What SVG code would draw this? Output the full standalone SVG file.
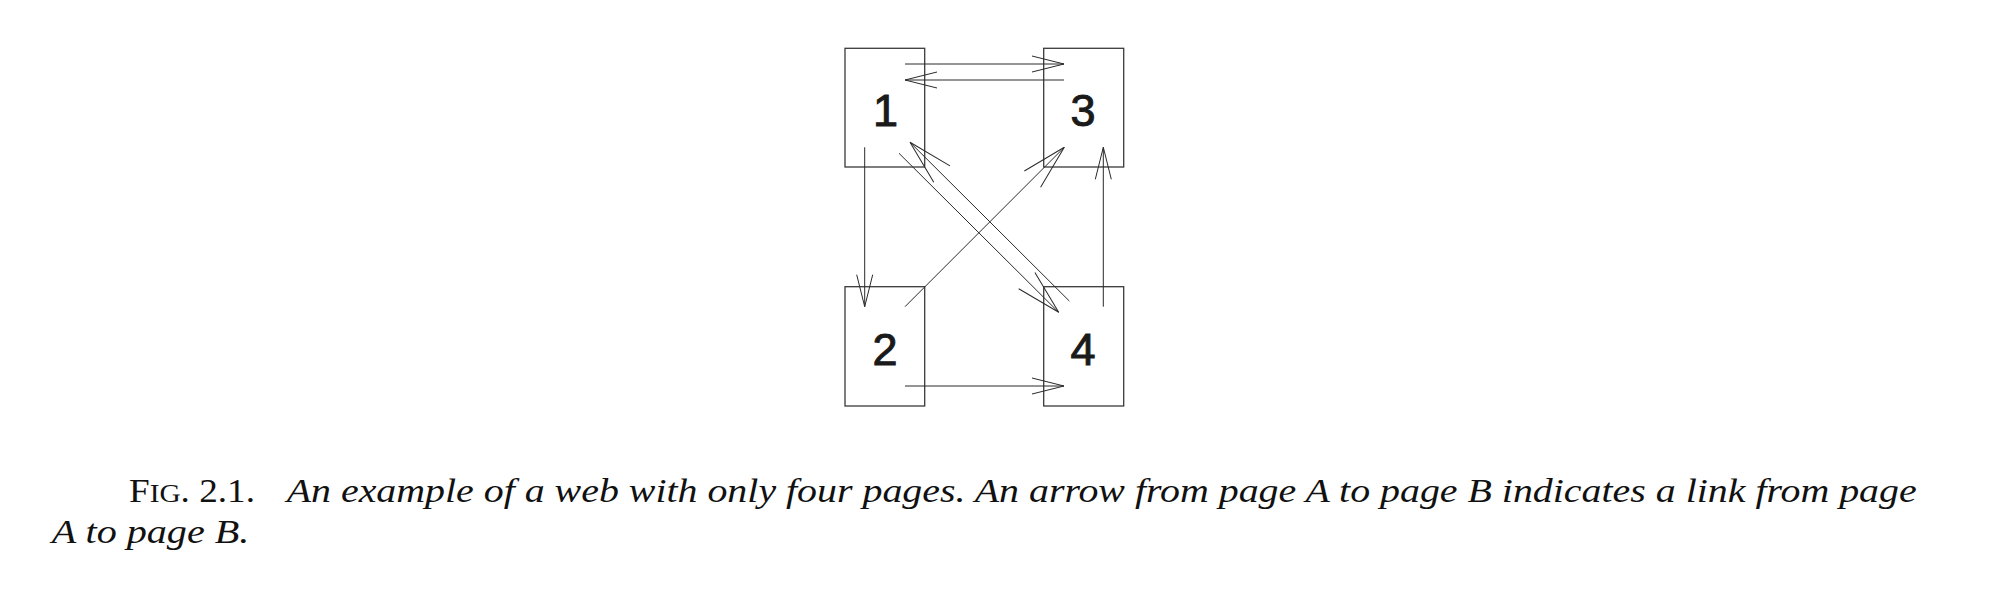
<svg xmlns="http://www.w3.org/2000/svg" width="2016" height="604" viewBox="0 0 2016 604">
<style>
.box{fill:#fff;stroke:#3a3a3a;stroke-width:1.3}
.num{font-family:"Liberation Sans",Arial,sans-serif;font-size:45px;fill:#1a1a1a;stroke:#1a1a1a;stroke-width:1;text-anchor:middle}
.edge{fill:none;stroke:#2a2a2a;stroke-width:1}
.cap{font-family:"Liberation Serif","Times New Roman",serif;font-size:33px;fill:#111}
.it{font-style:italic}
</style>
<defs>
<marker id="ah" markerUnits="userSpaceOnUse" viewBox="-40 -12 44 24" refX="0" refY="0" markerWidth="44" markerHeight="24" orient="auto" overflow="visible">
<path d="M-32,-8 L0,0 L-32,8" fill="none" stroke="#2a2a2a" stroke-width="1"/>
</marker>
<marker id="ahd" markerUnits="userSpaceOnUse" viewBox="-50 -15 54 30" refX="0" refY="0" markerWidth="54" markerHeight="30" orient="auto" overflow="visible">
<path d="M-45,-11.5 L0,0 L-45,11.5" fill="none" stroke="#2a2a2a" stroke-width="1"/>
</marker>
</defs>
<rect width="2016" height="604" fill="#fff"/>
<g id="node1"><rect class="box" x="845" y="48.3" width="79.7" height="118.7"/><text class="num" x="885.5" y="125.7">1</text></g>
<g id="node3"><rect class="box" x="1043.7" y="48.3" width="80" height="118.7"/><text class="num" x="1083" y="125.7">3</text></g>
<g id="node2"><rect class="box" x="845" y="286.7" width="79.7" height="119.3"/><text class="num" x="885" y="365">2</text></g>
<g id="node4"><rect class="box" x="1043.7" y="286.7" width="80" height="119.3"/><text class="num" x="1083" y="365">4</text></g>
<g id="connectors">
<line class="edge" x1="905" y1="64" x2="1064" y2="64" marker-end="url(#ah)"/>
<line class="edge" x1="1064" y1="80" x2="905" y2="80" marker-end="url(#ah)"/>
<line class="edge" x1="864.7" y1="147.3" x2="864.7" y2="306.7" marker-end="url(#ah)"/>
<line class="edge" x1="1103.3" y1="306.7" x2="1103.3" y2="147.3" marker-end="url(#ah)"/>
<line class="edge" x1="905" y1="386" x2="1064" y2="386" marker-end="url(#ah)"/>
<line class="edge" x1="905" y1="306.7" x2="1064.3" y2="147.3" marker-end="url(#ahd)"/>
<line class="edge" x1="1069.3" y1="301" x2="910" y2="142.3" marker-end="url(#ahd)"/>
<line class="edge" x1="899" y1="153.3" x2="1058.7" y2="312.3" marker-end="url(#ahd)"/>
</g>
<g id="caption">
<text class="cap" x="129" y="502" textLength="126" lengthAdjust="spacingAndGlyphs"><tspan>F</tspan><tspan font-size="26">IG</tspan><tspan>. 2.1.</tspan></text>
<text class="cap it" x="286.7" y="502" textLength="1630" lengthAdjust="spacingAndGlyphs">An example of a web with only four pages.  An arrow from page A to page B indicates a link from page</text>
<text class="cap it" x="51.7" y="543" textLength="197.6" lengthAdjust="spacingAndGlyphs">A to page B.</text>
</g>
</svg>
